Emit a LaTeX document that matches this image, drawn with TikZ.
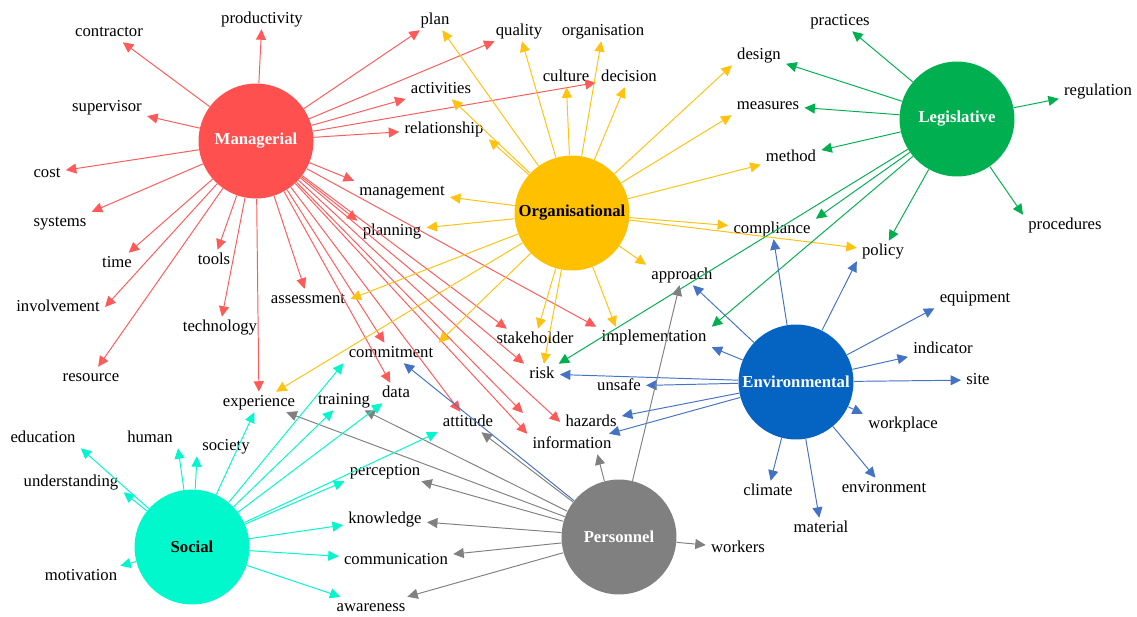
\documentclass[tikz,border=0pt]{standalone}
\usepackage{fontspec}
\setmainfont{Liberation Serif}
\usetikzlibrary{arrows.meta}

% hub fills
\definecolor{cMan}{HTML}{FF5050}
\definecolor{cOrg}{HTML}{FFC000}
\definecolor{cLeg}{HTML}{00B050}
\definecolor{cEnv}{HTML}{0563C1}
\definecolor{cSoc}{HTML}{00F8CC}
\definecolor{cPer}{HTML}{808080}
% edge colours
\definecolor{eMan}{HTML}{FF5A5A}
\definecolor{eOrg}{HTML}{FFC20F}
\definecolor{eLeg}{HTML}{00B050}
\definecolor{eEnv}{HTML}{4472C4}
\definecolor{eSoc}{HTML}{00F8CC}
\definecolor{ePer}{HTML}{808080}

\tikzset{
  hub/.style={circle, minimum size=2.3cm, inner sep=0pt,
    font=\fontsize{9.5}{11}\selectfont\bfseries},
  word/.style={inner xsep=0.1cm, inner ysep=0.04cm, text height=0.68em,
    text depth=0.22em, font=\fontsize{9.5}{11}\selectfont},
  link/.style={line width=0.55pt, -{Triangle[length=0.21cm,width=0.2cm]}},
  man/.style={link, draw=eMan},
  org/.style={link, draw=eOrg},
  leg/.style={link, draw=eLeg},
  env/.style={link, draw=eEnv},
  soc/.style={link, draw=eSoc},
  per/.style={link, draw=ePer},
}

\begin{document}
\begin{tikzpicture}[x=0.02cm, y=-0.02cm]
\useasboundingbox (0,0) rectangle (1137,616);

% theme hubs
\node[hub, fill=cMan, text=white] (M) at (256,141) {Managerial};
\node[hub, fill=cOrg, text=black] (O) at (572,213) {Organisational};
\node[hub, fill=cLeg, text=white] (L) at (957,119) {Legislative};
\node[hub, fill=cEnv, text=white] (E) at (796,382) {Environmental};
\node[hub, fill=cSoc, text=black] (S) at (192,547) {Social};
\node[hub, fill=cPer, text=white] (P) at (619,537) {Personnel};

% keywords
\node[word] (productivity) at (262,19) {productivity};
\node[word] (contractor) at (109,32) {contractor};
\node[word] (supervisor) at (107,107) {supervisor};
\node[word] (cost) at (47,173) {cost};
\node[word] (systems) at (60,222) {systems};
\node[word] (time) at (117,263) {time};
\node[word] (tools) at (214,260) {tools};
\node[word] (involvement) at (58,307) {involvement};
\node[word] (assessment) at (308,299) {assessment};
\node[word] (management) at (402,191) {management};
\node[word] (planning) at (392,231) {planning};
\node[word] (technology) at (220,327) {technology};
\node[word] (resource) at (91,377) {resource};
\node[word] (commitment) at (391,353) {commitment};
\node[word] (experience) at (259,402) {experience};
\node[word] (training) at (344,400) {training};
\node[word] (data) at (396,393) {data};
\node[word] (education) at (43,438) {education};
\node[word] (human) at (150,438) {human};
\node[word] (society) at (226,446) {society};
\node[word] (understanding) at (71,482) {understanding};
\node[word] (motivation) at (81,576) {motivation};
\node[word] (perception) at (385,471) {perception};
\node[word] (knowledge) at (385,519) {knowledge};
\node[word] (communication) at (396,560) {communication};
\node[word] (awareness) at (371,607) {awareness};
\node[word] (stakeholder) at (535,339) {stakeholder};
\node[word] (implementation) at (654,337) {implementation};
\node[word] (risk) at (542,374) {risk};
\node[word] (unsafe) at (619,386) {unsafe};
\node[word] (attitude) at (468,422) {attitude};
\node[word] (hazards) at (591,422) {hazards};
\node[word] (information) at (572,444) {information};
\node[word] (workers) at (738,548) {workers};
\node[word] (plan) at (435,20) {plan};
\node[word] (quality) at (519,31) {quality};
\node[word] (organisation) at (603,31) {organisation};
\node[word] (culture) at (566,77) {culture};
\node[word] (decision) at (629,77) {decision};
\node[word] (activities) at (441,89) {activities};
\node[word] (relationship) at (444,129) {relationship};
\node[word] (design) at (759,55) {design};
\node[word] (measures) at (768,105) {measures};
\node[word] (method) at (791,157) {method};
\node[word] (compliance) at (772,229) {compliance};
\node[word] (approach) at (682,275) {approach};
\node[word] (policy) at (883,251) {policy};
\node[word] (practices) at (840,21) {practices};
\node[word] (regulation) at (1098,91) {regulation};
\node[word] (procedures) at (1065,225) {procedures};
\node[word] (equipment) at (975,298) {equipment};
\node[word] (indicator) at (943,349) {indicator};
\node[word] (site) at (978,380) {site};
\node[word] (workplace) at (903,424) {workplace};
\node[word] (environment) at (884,488) {environment};
\node[word] (material) at (821,528) {material};
\node[word] (climate) at (768,491) {climate};
\coordinate (mextra) at (523,413);

% Managerial links
\foreach \t in {productivity,contractor,supervisor,cost,time,resource,tools,
  technology,experience,assessment,plan,quality,activities,relationship,
  decision,commitment,data,attitude}
  \draw[man] (M) -- (\t);
\draw[man] (M) -- (systems.north east);
\draw[man] (M) -- (involvement.east);
\draw[man] (M) -- (management.north west);
\draw[man] (M) -- (planning.north west);
\draw[man] (M) -- (risk.north west);
\draw[man] (M) -- (hazards.west);
\draw[man] (M) -- (stakeholder.160);
\draw[man] (M) -- (implementation.north west);
\draw[man] (M) -- (information.north west);
\draw[man] (M) -- (mextra);

% Organisational links
\foreach \t in {plan,quality,organisation,culture,decision,activities,
  management,planning,method,compliance,policy,risk,stakeholder,experience}
  \draw[org] (O) -- (\t);
\draw[org] (O) -- (relationship.south east);
\draw[org] (O) -- (design.south west);
\draw[org] (O) -- (measures.south west);
\draw[org] (O) -- (approach.north west);
\draw[org] (O) -- (implementation.165);
\draw[org] (O) -- (assessment.east);
\draw[org] (O) -- (commitment.north east);

% Legislative links
\foreach \t in {practices,design,measures,method,regulation,policy,risk}
  \draw[leg] (L) -- (\t);
\draw[leg] (L) -- (procedures.north west);
\draw[leg] (L) -- (compliance.north east);
\draw[leg] (L) -- (implementation.north east);

% Environmental links
\foreach \t in {compliance,indicator,site,environment,material,climate,
  approach,risk,unsafe,hazards,information}
  \draw[env] (E) -- (\t);
\draw[env] (E) -- (policy.south west);
\draw[env] (E) -- (equipment.south west);
\draw[env] (E) -- (workplace.north west);
\draw[env] (E) -- (implementation.south east);

% Personnel links
\foreach \t in {approach,attitude,training,experience,perception,knowledge,
  communication,awareness,workers}
  \draw[per] (P) -- (\t);
\draw[per] (P) -- (information.-22);
\draw[env] (P) -- (commitment);

% Social links
\foreach \t in {motivation,experience,training,data,knowledge,communication,
  awareness}
  \draw[soc] (S) -- (\t);
\draw[soc] (S) -- (education.south east);
\draw[soc] (S) -- (understanding.south east);
\draw[soc] (S) -- (human.south east);
\draw[soc] (S) -- (society.south west);
\draw[soc] (S) -- (commitment.south west);
\draw[soc] (S) -- (attitude.south west);
\draw[soc] (S) -- (perception.south west);
\end{tikzpicture}
\end{document}
